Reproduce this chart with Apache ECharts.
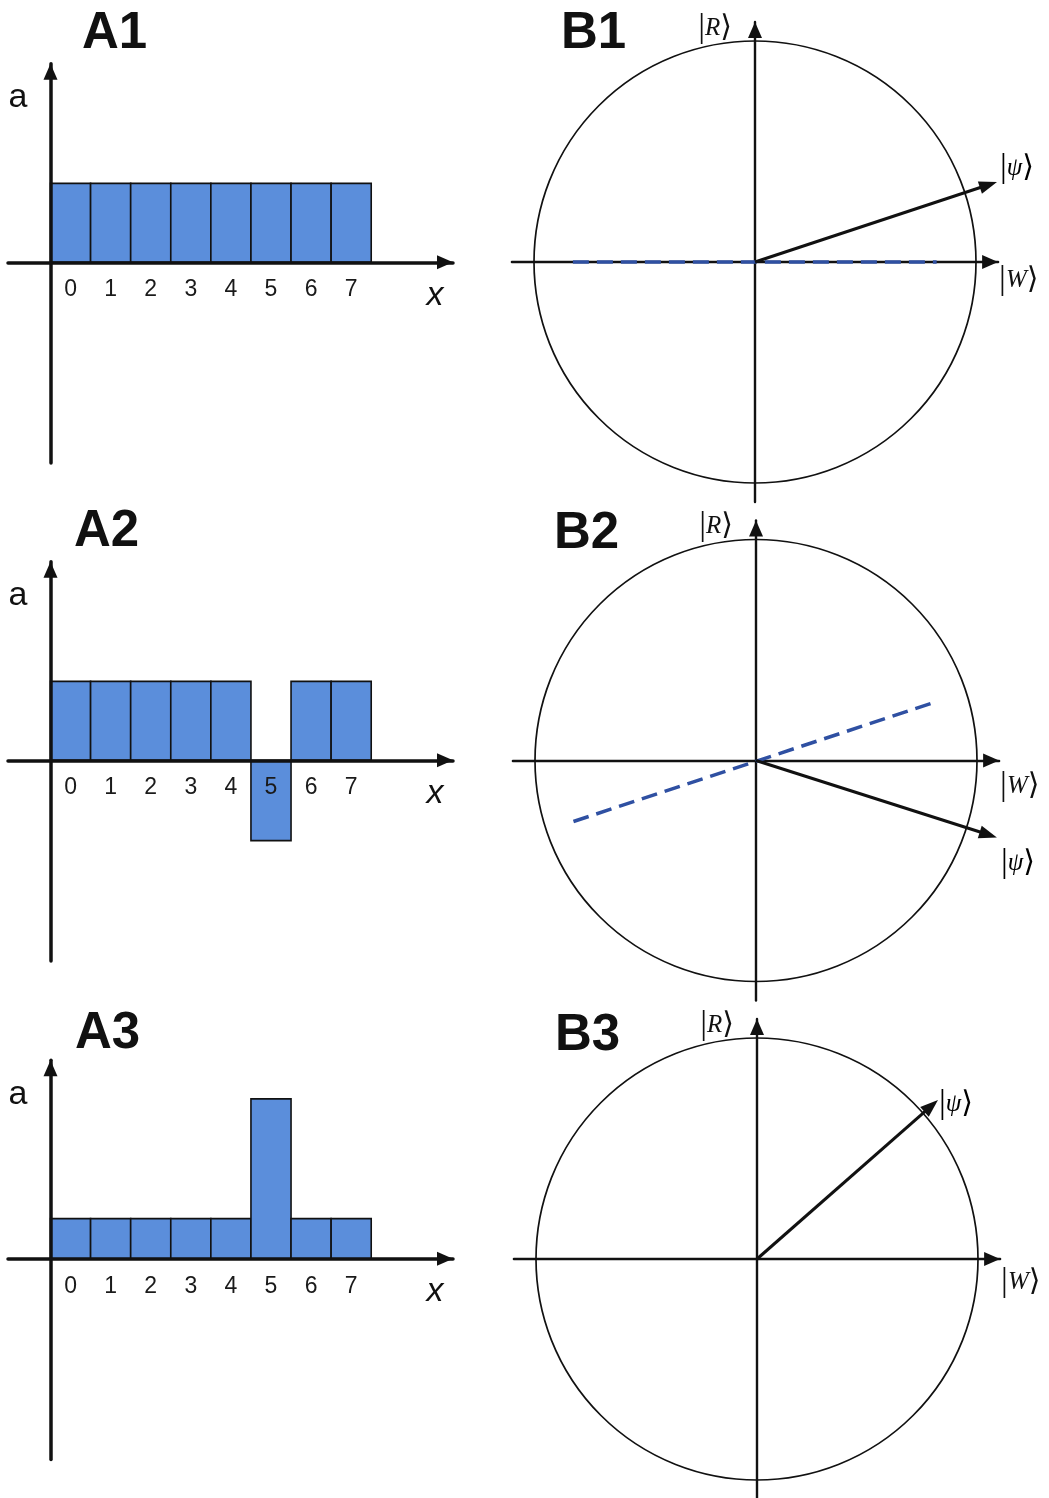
<!DOCTYPE html>
<html>
<head>
<meta charset="utf-8">
<script src="https://cdn.jsdelivr.net/npm/echarts@6/dist/echarts.min.js"></script>
<style>
  html, body { margin: 0; padding: 0; background: #fff; }
  #chart { width: 1049px; height: 1498px; }
</style>
</head>
<body>
<div id="chart"></div>
<script>
// Basis states x = 0..7 (3 qubits, N = 8)
const states = ['0', '1', '2', '3', '4', '5', '6', '7'];

// Amplitudes a(x) at each stage of one Grover iteration
const ampUniform  = [0.354, 0.354, 0.354, 0.354, 0.354, 0.354, 0.354, 0.354];
const ampOracle   = [0.354, 0.354, 0.354, 0.354, 0.354, -0.36, 0.354, 0.354];
const ampDiffused = [0.18, 0.18, 0.18, 0.18, 0.18, 0.717, 0.18, 0.18];

// State vector |psi> in the (|W>, |R>) plane, unit circle radius = 1
const psiStart    = [1.095, 0.362];
const psiOracle   = [1.09, -0.348];
const psiDiffused = [0.819, 0.719];

// Reflection axis (dashed) in the first two plane diagrams
const mirrorStart  = [[-0.824, 0], [0.822, 0]];
const mirrorOracle = [[-0.826, -0.276], [0.819, 0.267]];

const unitCircle = [[0, 0, 1]];

// ---- styling -------------------------------------------------------------
const BAR_FILL = '#5b8edb';
const DASH = '#2f50a2';
const INK = '#111';
const SANS = 'Liberation Sans, Arial, Helvetica, sans-serif';
const SERIF = 'Liberation Serif, Times New Roman, DejaVu Serif, serif';

const ketRich = {
  b: { fontFamily: SERIF, fontSize: 34, color: INK },
  i: { fontFamily: SERIF, fontSize: 25, fontStyle: 'italic', color: INK },
  k: { fontFamily: 'DejaVu Serif, DejaVu Sans, serif', fontSize: 30, color: INK }
};
const ket = s => '{b||}{i|' + s + '}{k|⟩}';

const grids = [], xAxes = [], yAxes = [], series = [], titles = [];

// ---- bar panels (amplitude a vs x) ----------------------------------------
const BX_MIN = -1.06, BX_MAX = 10.04, BX_PX = 40.09;
const BY_MIN = -0.9, BY_MAX = 0.89, BY_PX = 223;

function barPanel(amps, axisY) {
  const gi = grids.length;
  grids.push({
    left: 50.5 + BX_MIN * BX_PX,
    top: axisY - BY_MAX * BY_PX,
    width: (BX_MAX - BX_MIN) * BX_PX,
    height: (BY_MAX - BY_MIN) * BY_PX,
    outerBoundsMode: 'none',
    containLabel: false
  });
  xAxes.push({
    gridIndex: gi, type: 'value', min: BX_MIN, max: BX_MAX, z: 5,
    // x axis sits on a = 0, lifted from the grid bottom
    position: 'bottom', offset: BY_MIN * BY_PX,
    name: 'x', nameLocation: 'end', nameGap: -18, nameMoveOverlap: false,
    nameTextStyle: { fontFamily: SANS, fontStyle: 'italic', fontSize: 34, color: INK,
      align: 'center', verticalAlign: 'top', padding: [16, 0, 0, 0] },
    axisLine: { show: true, onZero: false, symbol: ['none', 'triangle'], symbolSize: [14, 16],
      symbolOffset: [0, -8], lineStyle: { color: INK, width: 3.5 } },
    axisTick: { show: false },
    splitLine: { show: false },
    axisLabel: {
      show: true, margin: 16, fontFamily: SANS, fontSize: 23, color: '#1a1a1a',
      customValues: states.map((s, i) => i + 0.5),
      formatter: v => states[Math.floor(v)]
    }
  });
  yAxes.push({
    gridIndex: gi, type: 'value', min: BY_MIN, max: BY_MAX, z: 5,
    name: 'a', nameLocation: 'end', nameGap: -34, nameMoveOverlap: false,
    nameTextStyle: { fontFamily: SANS, fontSize: 34, color: INK,
      align: 'right', verticalAlign: 'middle', padding: [0, 23, 0, 0] },
    axisLine: { show: true, onZero: true, symbol: ['none', 'triangle'], symbolSize: [14, 16],
      symbolOffset: [0, -8], lineStyle: { color: INK, width: 3.5 } },
    axisTick: { show: false }, axisLabel: { show: false }, splitLine: { show: false }
  });
  series.push({
    type: 'custom', xAxisIndex: gi, yAxisIndex: gi, z: 2,
    data: amps.map((v, i) => [i, v]),
    renderItem(params, api) {
      const i = api.value(0), v = api.value(1);
      const p0 = api.coord([i, 0]);
      const p1 = api.coord([i + 1, v]);
      return {
        type: 'rect',
        shape: { x: p0[0], y: Math.min(p0[1], p1[1]), width: p1[0] - p0[0], height: Math.abs(p1[1] - p0[1]) },
        style: { fill: BAR_FILL, stroke: INK, lineWidth: 1.6 }
      };
    }
  });
}

// ---- plane panels (|W>, |R> basis with unit circle) ------------------------
const VX = 1.1, VY = 1.086, V_PX = 221;

function planePanel(cx, cy, psi, psiLabelOffset, wLabelDy, mirror) {
  const gi = grids.length;
  grids.push({
    left: cx - VX * V_PX, top: cy - VY * V_PX,
    width: 2 * VX * V_PX, height: 2 * VY * V_PX,
    outerBoundsMode: 'none', containLabel: false
  });
  xAxes.push({
    gridIndex: gi, type: 'value', min: -VX, max: VX,
    name: ket('W'), nameLocation: 'end', nameGap: 1, nameMoveOverlap: false,
    nameTextStyle: { rich: ketRich, align: 'left', verticalAlign: 'middle', padding: [2 * wLabelDy, 0, 0, 0] },
    axisLine: { show: true, onZero: true, symbol: ['none', 'triangle'], symbolSize: [14, 16],
      symbolOffset: [0, -8], lineStyle: { color: INK, width: 2.4 } },
    axisTick: { show: false }, axisLabel: { show: false }, splitLine: { show: false }
  });
  yAxes.push({
    gridIndex: gi, type: 'value', min: -VY, max: VY,
    name: ket('R'), nameLocation: 'end', nameGap: -6, nameMoveOverlap: false,
    nameTextStyle: { rich: ketRich, align: 'right', verticalAlign: 'middle', padding: [0, 23, 0, 0] },
    axisLine: { show: true, onZero: true, symbol: ['none', 'triangle'], symbolSize: [14, 16],
      symbolOffset: [0, -8], lineStyle: { color: INK, width: 2.4 } },
    axisTick: { show: false }, axisLabel: { show: false }, splitLine: { show: false }
  });
  // unit circle
  series.push({
    type: 'custom', xAxisIndex: gi, yAxisIndex: gi, z: 1, silent: true,
    data: unitCircle,
    renderItem(params, api) {
      const c = api.coord([api.value(0), api.value(1)]);
      const r = api.size([api.value(2), 0])[0];
      return { type: 'circle', shape: { cx: c[0], cy: c[1], r },
        style: { fill: 'none', stroke: INK, lineWidth: 1.7 } };
    }
  });
  // reflection axis
  if (mirror) {
    series.push({
      type: 'line', xAxisIndex: gi, yAxisIndex: gi, z: 3, silent: true,
      data: mirror, showSymbol: false, symbol: 'none',
      lineStyle: { color: DASH, width: 3.5, type: [16, 8], cap: 'butt' }
    });
  }
  // state vector |psi>
  series.push({
    type: 'custom', xAxisIndex: gi, yAxisIndex: gi, z: 4, silent: true,
    data: [[0, 0, psi[0], psi[1]]],
    renderItem(params, api) {
      const p0 = api.coord([api.value(0), api.value(1)]);
      const p1 = api.coord([api.value(2), api.value(3)]);
      const dx = p1[0] - p0[0], dy = p1[1] - p0[1];
      const len = Math.hypot(dx, dy);
      const ux = dx / len, uy = dy / len, nx = -uy, ny = ux;
      const L = 18, W = 13;
      const bx = p1[0] - ux * L, by = p1[1] - uy * L;
      return {
        type: 'group',
        children: [
          { type: 'line', shape: { x1: p0[0], y1: p0[1], x2: bx + ux * 2, y2: by + uy * 2 },
            style: { stroke: INK, lineWidth: 3 } },
          { type: 'polygon', shape: { points: [[p1[0], p1[1]],
              [bx + nx * W / 2, by + ny * W / 2], [bx - nx * W / 2, by - ny * W / 2]] },
            style: { fill: INK } },
          { type: 'text', x: p1[0] + psiLabelOffset[0], y: p1[1] + psiLabelOffset[1],
            style: { text: ket('ψ'), rich: ketRich, align: 'left', verticalAlign: 'middle' } }
        ]
      };
    }
  });
}

barPanel(ampUniform, 262.3);
barPanel(ampOracle, 760.3);
barPanel(ampDiffused, 1258.8);

planePanel(755, 262, psiStart, [3, -14], 18, mirrorStart);
planePanel(756, 760.5, psiOracle, [4, 26], 26, mirrorOracle);
planePanel(757, 1259, psiDiffused, [1, 4], 23, null);

const titleStyle = { fontFamily: SANS, fontWeight: 'bold', fontSize: 51, color: INK };
[['A1', 82, 8], ['B1', 561, 8], ['A2', 74, 506], ['B2', 554, 508], ['A3', 75, 1008], ['B3', 555, 1010]]
  .forEach(([t, l, tp]) => titles.push({ text: t, left: l, top: tp, padding: 0, textStyle: titleStyle }));

const chart = echarts.init(document.getElementById('chart'), null, { renderer: 'canvas' });
chart.setOption({
  animation: false,
  backgroundColor: '#fff',
  title: titles,
  grid: grids,
  xAxis: xAxes,
  yAxis: yAxes,
  series: series
});
</script>
</body>
</html>
